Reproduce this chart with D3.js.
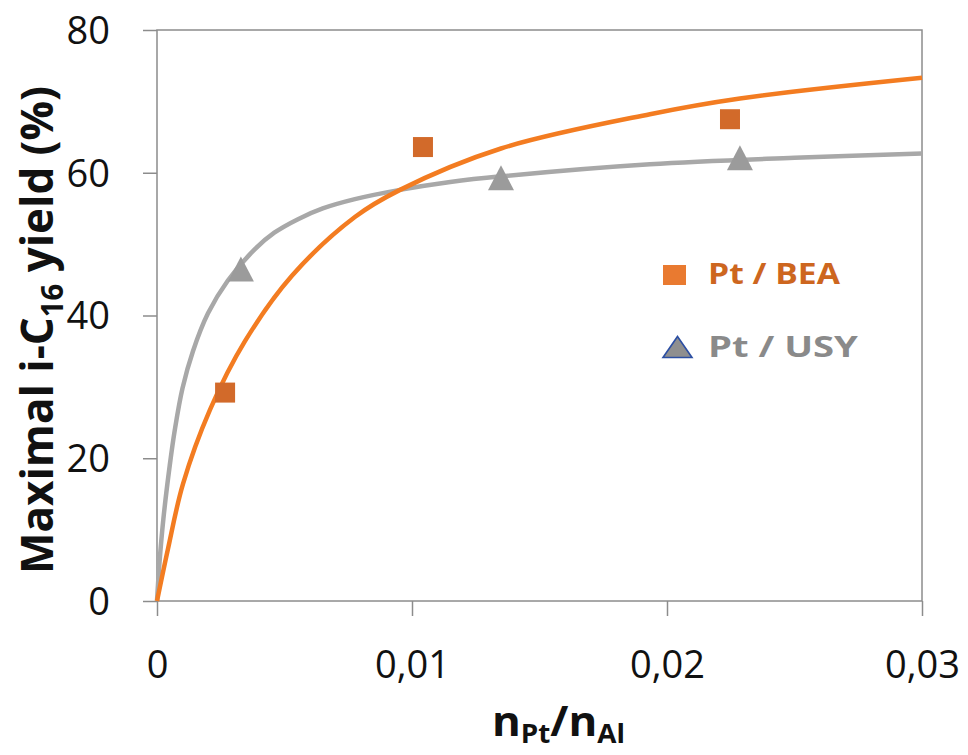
<!DOCTYPE html>
<html>
<head>
<meta charset="utf-8">
<script src="https://cdn.jsdelivr.net/npm/d3@7"></script>
<style>
  html, body { margin: 0; padding: 0; background: #fff; }
  svg { display: block; }
</style>
</head>
<body>
<svg id="chart" width="968" height="755"></svg>
<script>
// ---- data ----
const xTicks = [0, 0.01, 0.02, 0.03];
const yTicks = [0, 20, 40, 60, 80];

const beaX = [0.00267, 0.01043, 0.02247];
const beaY = [29.2, 63.6, 67.5];

const usyX = [0.00329, 0.01349, 0.02286];
const usyY = [46.5, 59.3, 62.1];

// fitted trend curves
const beaFitX = [0, 0.00043, 0.00102, 0.00208, 0.00345, 0.0053, 0.00776, 0.00953, 0.01349, 0.01933, 0.02286, 0.03];
const beaFitY = [0, 7.3, 16.4, 26.8, 36.4, 45.6, 53.8, 57.6, 63.4, 68.2, 70.4, 73.3];

const usyFitX = [0, 0.0001, 0.00025, 0.0005, 0.0007, 0.001, 0.00141, 0.002, 0.00278, 0.00384, 0.0046, 0.00553, 0.0065, 0.00776, 0.00953, 0.0115, 0.01349, 0.01933, 0.025, 0.03];
const usyFitY = [0, 5.5, 11.5, 19.0, 24.0, 29.8, 35.0, 40.3, 44.9, 49.3, 51.6, 53.5, 55.0, 56.3, 57.6, 58.7, 59.5, 61.2, 62.1, 62.7];

const seriesNames = ["Pt / BEA", "Pt / USY"];

// ---- layout ----
const svg = d3.select("#chart");
const x = d3.scaleLinear().domain([0, 0.03]).range([157, 922]);
const y = d3.scaleLinear().domain([0, 80]).range([601, 30]);

const axisColor = "#8c8c8c";
const orangeLine = "#f37c21";
const orangeMarker = "#d26a2a";
const grayLine = "#a8a8a8";
const grayMarker = "#9b9b9b";

const fmtX = d => d === 0 ? "0" : d3.format(".2f")(d).replace(".", ",");

// frame
svg.append("rect")
  .attr("x", x(0)).attr("y", y(80))
  .attr("width", x(0.03) - x(0)).attr("height", y(0) - y(80))
  .attr("fill", "none").attr("stroke", axisColor).attr("stroke-width", 1.5);

// y axis
const gy = svg.append("g").attr("transform", `translate(${x(0)},0)`)
  .call(d3.axisLeft(y).tickValues(yTicks).tickSize(14).tickPadding(33));
gy.select(".domain").remove();
gy.selectAll("line").attr("stroke", axisColor).attr("stroke-width", 1.5);
gy.selectAll("text")
  .attr("font-family", "'Open Sans', sans-serif")
  .attr("font-size", 38).attr("fill", "#111").attr("dy", "0.35em");

// x axis
const gx = svg.append("g").attr("transform", `translate(0,${y(0)})`)
  .call(d3.axisBottom(x).tickValues(xTicks).tickFormat(fmtX).tickSize(15));
gx.select(".domain").remove();
gx.selectAll("line").attr("stroke", axisColor).attr("stroke-width", 1.5);
gx.selectAll("text")
  .attr("font-family", "'Open Sans', sans-serif")
  .attr("font-size", 38).attr("fill", "#111")
  .attr("y", 77).attr("dy", 0);

// curves
const line = d3.line().x(d => x(d[0])).y(d => y(d[1])).curve(d3.curveCatmullRom.alpha(0.5));
svg.append("path").datum(usyFitX.map((v, i) => [v, usyFitY[i]]))
  .attr("d", line).attr("fill", "none").attr("stroke", grayLine).attr("stroke-width", 4.5);
svg.append("path").datum(beaFitX.map((v, i) => [v, beaFitY[i]]))
  .attr("d", line).attr("fill", "none").attr("stroke", orangeLine).attr("stroke-width", 4.5);

// markers
const sq = 20;
svg.selectAll("rect.bea").data(beaX.map((v, i) => [v, beaY[i]])).join("rect")
  .attr("class", "bea")
  .attr("x", d => x(d[0]) - sq / 2).attr("y", d => y(d[1]) - sq / 2)
  .attr("width", sq).attr("height", sq).attr("fill", orangeMarker);

const triW = 26, triH = 25;
const triPath = (cx, cy, w, h) => `M${cx},${cy - h / 2}L${cx + w / 2},${cy + h / 2}L${cx - w / 2},${cy + h / 2}Z`;
svg.selectAll("path.usy").data(usyX.map((v, i) => [v, usyY[i]])).join("path")
  .attr("class", "usy")
  .attr("d", d => triPath(x(d[0]), y(d[1]), triW, triH))
  .attr("fill", grayMarker);

// helper: text stretched to a target width
function fitText(sel, target) {
  const w = sel.node().getComputedTextLength();
  return target / w;
}

// legend
svg.append("rect").attr("x", 663).attr("y", 265).attr("width", 23).attr("height", 20)
  .attr("fill", "#e97a30");
const l1g = svg.append("g");
const l1 = l1g.append("text").attr("x", 0).attr("y", 0)
  .attr("font-family", "'Open Sans', sans-serif").attr("font-weight", "bold")
  .attr("font-size", 29).attr("fill", "#cd661f").text(seriesNames[0]);
l1g.attr("transform", `translate(708,284) scale(${fitText(l1, 132)},1)`);

svg.append("path").attr("d", triPath(677.5, 347, 29, 21))
  .attr("fill", "#8f8f8f").attr("stroke", "#2c4fa3").attr("stroke-width", 1.6);
const l2g = svg.append("g");
const l2 = l2g.append("text").attr("x", 0).attr("y", 0)
  .attr("font-family", "'Open Sans', sans-serif").attr("font-weight", "bold")
  .attr("font-size", 29).attr("fill", "#8a8a8a").text(seriesNames[1]);
l2g.attr("transform", `translate(708,357) scale(${fitText(l2, 150)},1)`);

// y title
const ytg = svg.append("g");
const yt = ytg.append("text").attr("x", 0).attr("y", 0)
  .attr("font-family", "'Open Sans', sans-serif").attr("font-weight", "bold")
  .attr("font-size", 45).attr("fill", "#111").attr("text-anchor", "middle");
yt.append("tspan").text("Maximal i-C");
yt.append("tspan").attr("font-size", 30).attr("dy", 10).text("16");
yt.append("tspan").attr("dy", -10).text(" yield (%)");
ytg.attr("transform", `translate(53,330) rotate(-90) scale(${fitText(yt, 488)},1)`);

// x title
const xtg = svg.append("g");
const xt = xtg.append("text").attr("x", 0).attr("y", 0)
  .attr("font-family", "'Open Sans', sans-serif").attr("font-weight", "bold")
  .attr("font-size", 41).attr("fill", "#111");
xt.append("tspan").text("n");
xt.append("tspan").attr("font-size", 26).attr("dy", 7).text("Pt");
xt.append("tspan").attr("dy", -7).text("/n");
xt.append("tspan").attr("font-size", 26).attr("dy", 7).text("Al");
xtg.attr("transform", `translate(492,736) scale(${fitText(xt, 133)},1)`);
</script>
</body>
</html>
